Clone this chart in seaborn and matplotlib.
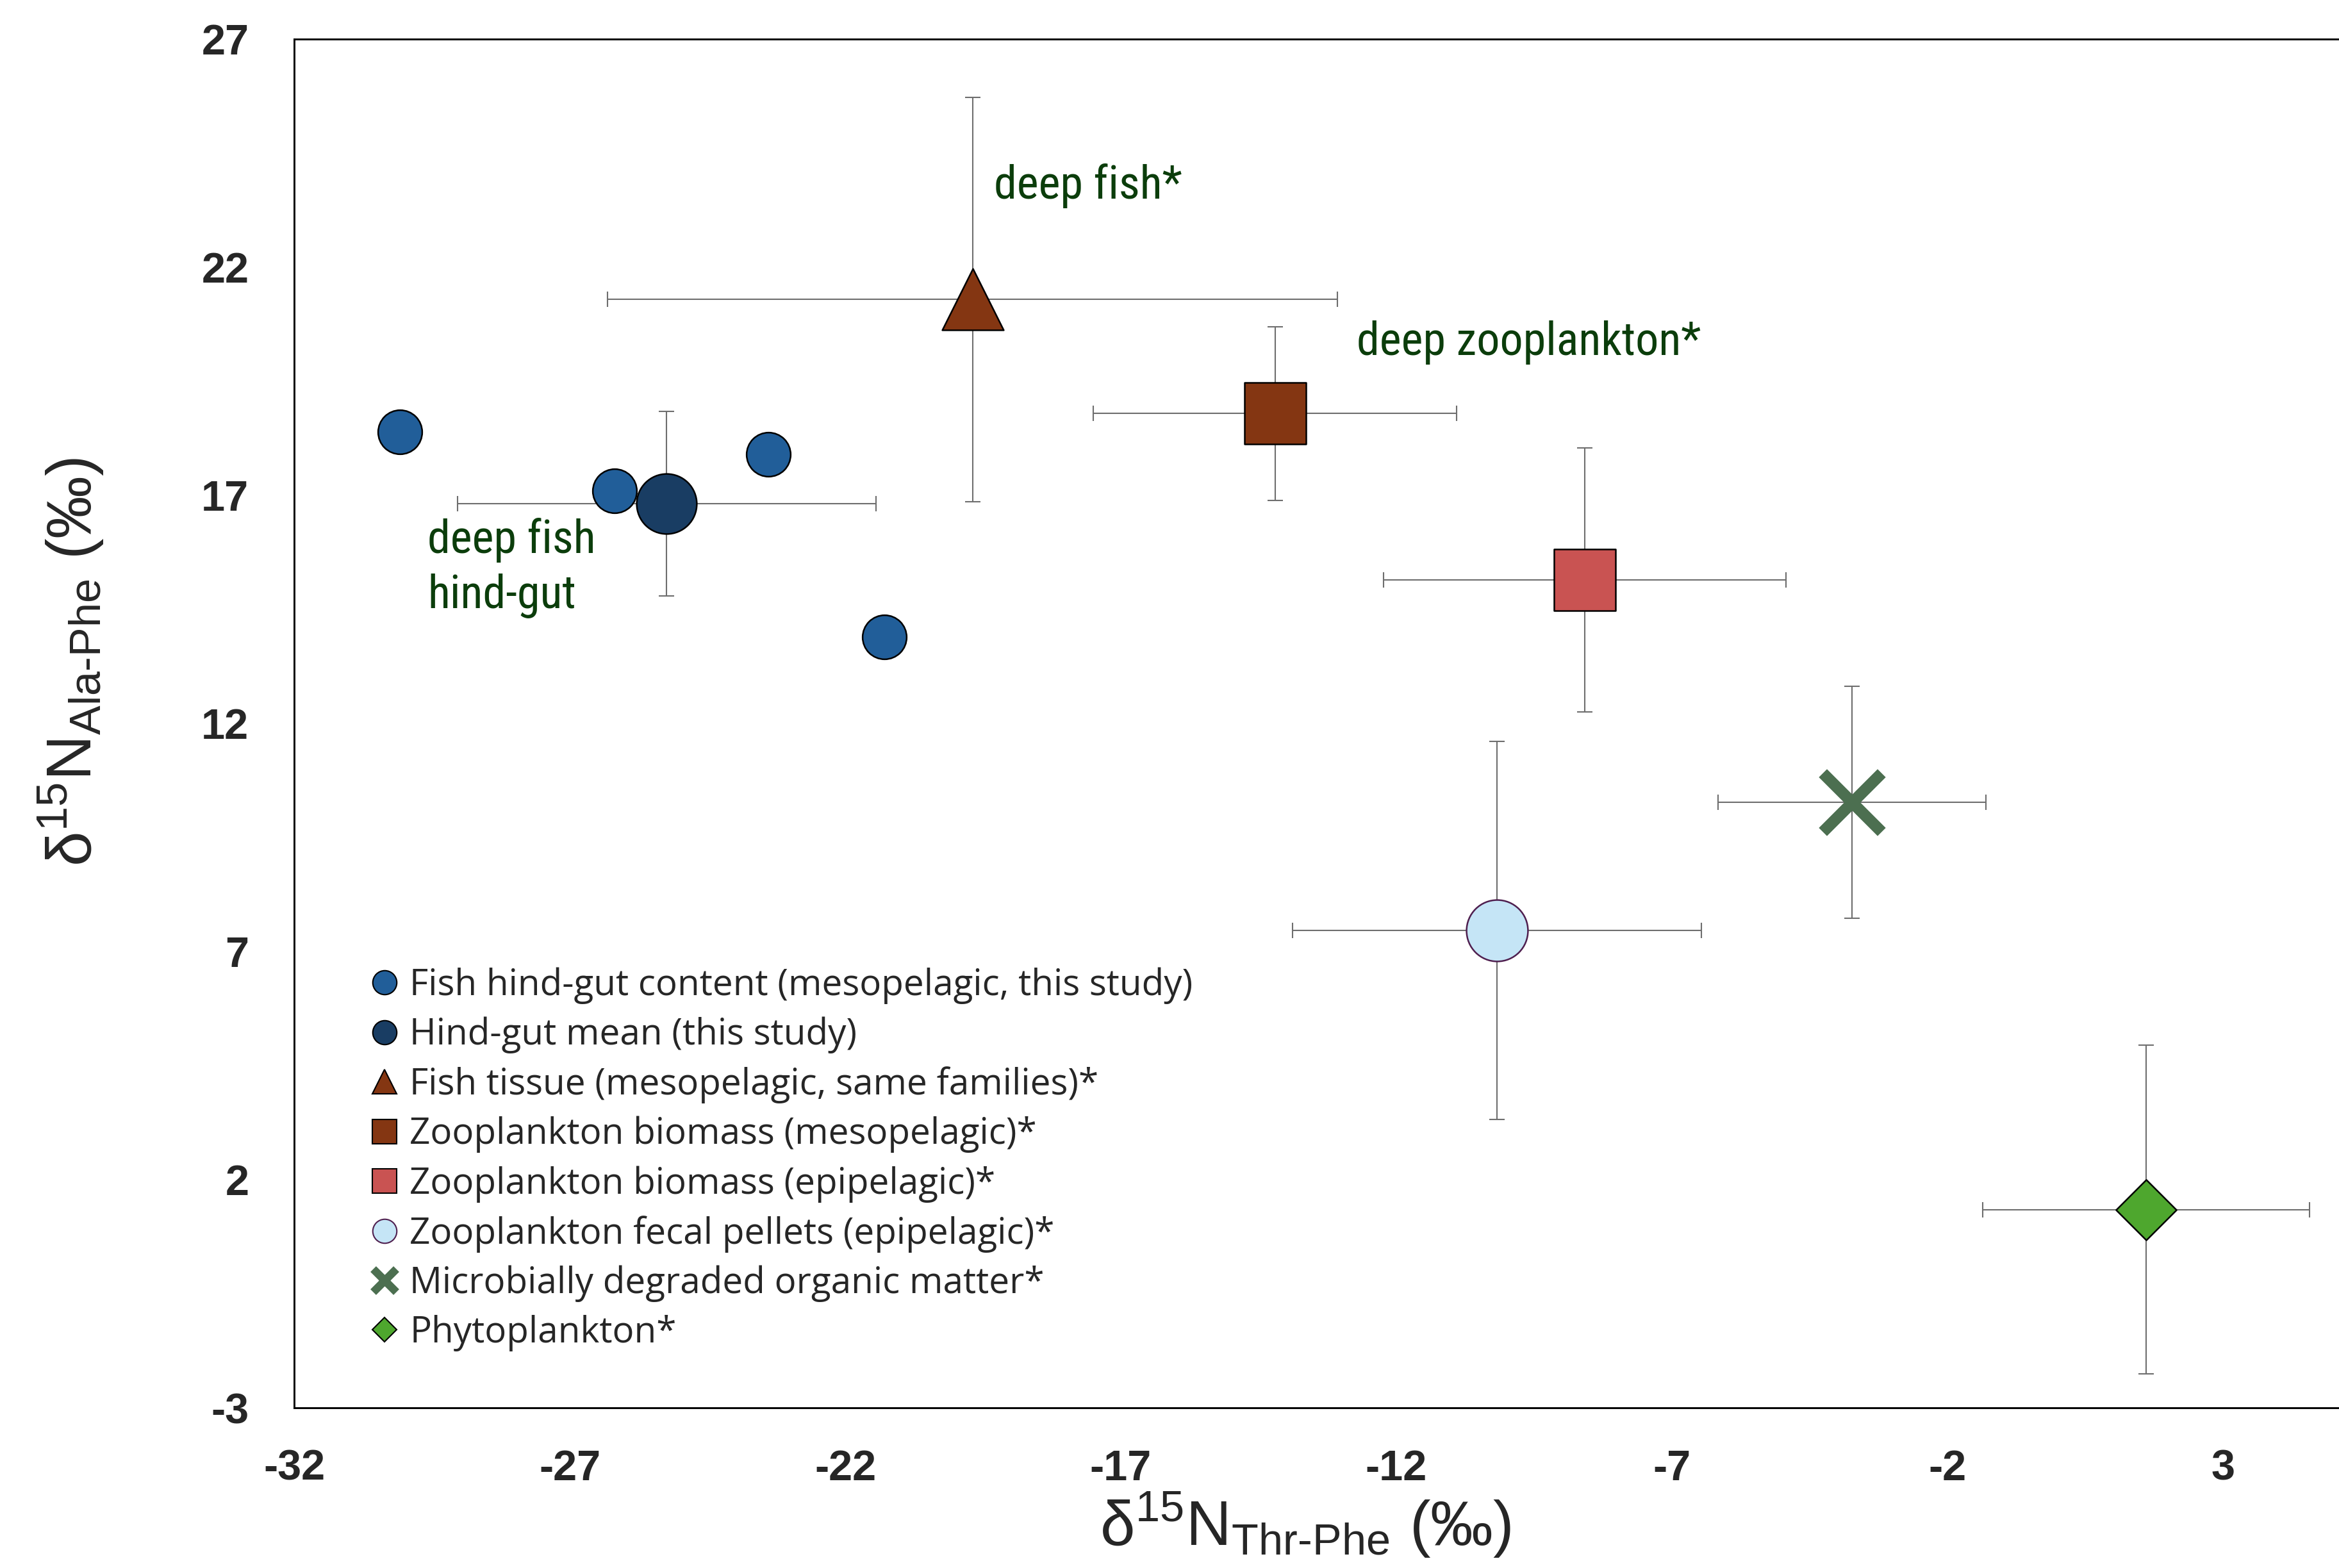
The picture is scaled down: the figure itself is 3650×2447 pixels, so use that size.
import numpy as np
import matplotlib
matplotlib.use("Agg")
import matplotlib.pyplot as plt
from matplotlib.lines import Line2D
from matplotlib import font_manager
import seaborn as sns

# Values (d15N, per mil) ==================================================================
# individual fish hind-gut samples (this study)
gut_x = [-30.08, -26.19, -23.39, -21.29]
gut_y = [18.40, 17.10, 17.90, 13.90]

# group means with +/- spread
group_names = [
    "Hind-gut mean (this study)",
    "Fish tissue (mesopelagic, same families)*",
    "Zooplankton biomass (mesopelagic)*",
    "Zooplankton biomass (epipelagic)*",
    "Zooplankton fecal pellets (epipelagic)*",
    "Microbially degraded organic matter*",
    "Phytoplankton*",
]
group_x = [-25.24, -19.69, -14.20, -8.58, -10.17, -3.73, 1.61]
group_y = [16.82, 21.30, 18.80, 15.15, 7.47, 10.28, 1.35]
group_xerr = [3.80, 6.62, 3.30, 3.65, 3.71, 2.43, 2.97]
group_yerr = [2.02, 4.43, 1.90, 2.89, 4.14, 2.54, 3.60]

gut_label = "Fish hind-gut content (mesopelagic, this study)"

notes = ["deep fish*", "deep zooplankton*", "deep fish\nhind-gut"]
notes_x = [-19.30, -12.72, -29.58]
notes_y = [23.51, 20.08, 14.54]

x_ticks = [-32, -27, -22, -17, -12, -7, -2, 3]
y_ticks = [-3, 2, 7, 12, 17, 22, 27]

# Styles ===================================================================================
gut_style = dict(marker="o", size=16.5, face="#215E99", edge="black")
styles = [
    dict(marker="o", size=22.5, face="#193D63", edge="black"),
    dict(marker="^", size=23, face="#843612", edge="black"),
    dict(marker="s", size=23, face="#843612", edge="black"),
    dict(marker="s", size=23, face="#C95352", edge="black"),
    dict(marker="o", size=23, face="#C5E5F6", edge="#4F1F4F"),
    dict(marker="x", size=22, face="#4C6F50", edge="#4C6F50"),
    dict(marker="D", size=16, face="#4EA72E", edge="black"),
]
note_color = "#0B3D0B"
err_color = "#6E6E6E"

sns.set_style("white")
plt.rcParams["font.family"] = ["Liberation Sans", "DejaVu Sans"]
plt.rcParams["axes.unicode_minus"] = False
plt.rcParams["mathtext.fontset"] = "custom"
plt.rcParams["mathtext.rm"] = "Liberation Sans"
plt.rcParams["mathtext.it"] = "Liberation Sans:italic"
plt.rcParams["mathtext.default"] = "regular"

# pick a narrow face for the annotations if one is installed
entries = [(f.name, f.stretch) for f in font_manager.fontManager.ttflist]
names = {n for n, s in entries}
note_family, note_stretch, note_size = "Liberation Sans", "normal", 17.0
for fam in ["Liberation Sans Narrow", "Arial Narrow", "Roboto Condensed",
            "Open Sans Condensed", "Noto Sans Condensed"]:
    if fam in names:
        note_family, note_stretch, note_size = fam, "normal", 17.3
        break
else:
    for fam in ["Roboto", "Noto Sans", "Open Sans"]:
        if any(n == fam and s in ("condensed", "semi-condensed") for n, s in entries):
            note_family, note_stretch, note_size = fam, "condensed", 17.3
            break

legend_family = "Open Sans" if "Open Sans" in names else "Liberation Sans"

fig = plt.figure(figsize=(3650 / 300, 2447 / 300), dpi=300)
ax = fig.add_axes([0.1258, 0.102, 1 - 0.1258, 0.9749 - 0.102])

# error bars first, markers on top
ax.errorbar(group_x, group_y, xerr=group_xerr, yerr=group_yerr, fmt="none",
            ecolor=err_color, elinewidth=0.5, capsize=2.8, capthick=0.5, zorder=2)

sns.scatterplot(x=gut_x, y=gut_y, ax=ax, marker=gut_style["marker"],
                s=gut_style["size"] ** 2, color=gut_style["face"],
                edgecolor=gut_style["edge"], linewidth=0.6, zorder=3, legend=False)

for gx, gy, st in zip(group_x, group_y, styles):
    if st["marker"] == "x":
        sns.scatterplot(x=[gx], y=[gy], ax=ax, marker="x", s=st["size"] ** 2,
                        color=st["face"], linewidth=4.3, zorder=3, legend=False)
    else:
        sns.scatterplot(x=[gx], y=[gy], ax=ax, marker=st["marker"], s=st["size"] ** 2,
                        color=st["face"], edgecolor=st["edge"], linewidth=0.6,
                        zorder=3, legend=False)

# annotations
for txt, tx, ty in zip(notes, notes_x, notes_y):
    ax.text(tx, ty, txt, color=note_color, fontsize=note_size, ha="left", va="baseline",
            linespacing=1.3, family=note_family, fontstretch=note_stretch)

# axes
ax.set_xlim(-32, 5.11)
ax.set_ylim(-3, 27)
ax.set_xticks(x_ticks)
ax.set_yticks(y_ticks)
ax.tick_params(axis="both", direction="in", length=5.3, width=0.6, labelsize=16)
ax.tick_params(axis="y", pad=17)
ax.tick_params(axis="x", pad=15.5)
for lab in ax.get_xticklabels() + ax.get_yticklabels():
    lab.set_fontweight("bold")
for side in ["left", "bottom", "top"]:
    ax.spines[side].set_linewidth(0.7)
    ax.spines[side].set_color("black")
ax.spines["right"].set_visible(False)

ax.set_xlabel(r"δ$^{15}$N$_{\text{Thr-Phe}}$ (‰)", fontsize=23.5)
ax.xaxis.set_label_coords(0.4945, -0.100)
ax.xaxis.label.set_va("baseline")
ax.set_ylabel(r"δ$^{15}$N$_{\text{Ala-Phe}}$ (‰)", fontsize=23.5)
ax.yaxis.set_label_coords(-0.1094, 0.545)
ax.yaxis.label.set_va("center")

# legend
handles = [Line2D([], [], linestyle="none", marker="o", markersize=9,
                  markerfacecolor=gut_style["face"], markeredgecolor="black",
                  markeredgewidth=0.5)]
legend_sizes = [9, 9, 9, 9, 9, 9, 6.4]
for st, ms in zip(styles, legend_sizes):
    if st["marker"] == "x":
        handles.append(Line2D([], [], linestyle="none", marker="x", markersize=8.5,
                              markeredgecolor=st["face"], markeredgewidth=3))
    else:
        handles.append(Line2D([], [], linestyle="none", marker=st["marker"], markersize=ms,
                              markerfacecolor=st["face"], markeredgecolor=st["edge"],
                              markeredgewidth=0.5))
ax.legend(handles, [gut_label] + group_names, loc="upper left",
          bbox_to_anchor=(0.0351, 0.322), frameon=False,
          prop=dict(family=legend_family, size=13.6),
          labelspacing=0.35, handlelength=1.0, handletextpad=0.2,
          borderpad=0, borderaxespad=0)

fig.savefig("out.png", dpi=300)
